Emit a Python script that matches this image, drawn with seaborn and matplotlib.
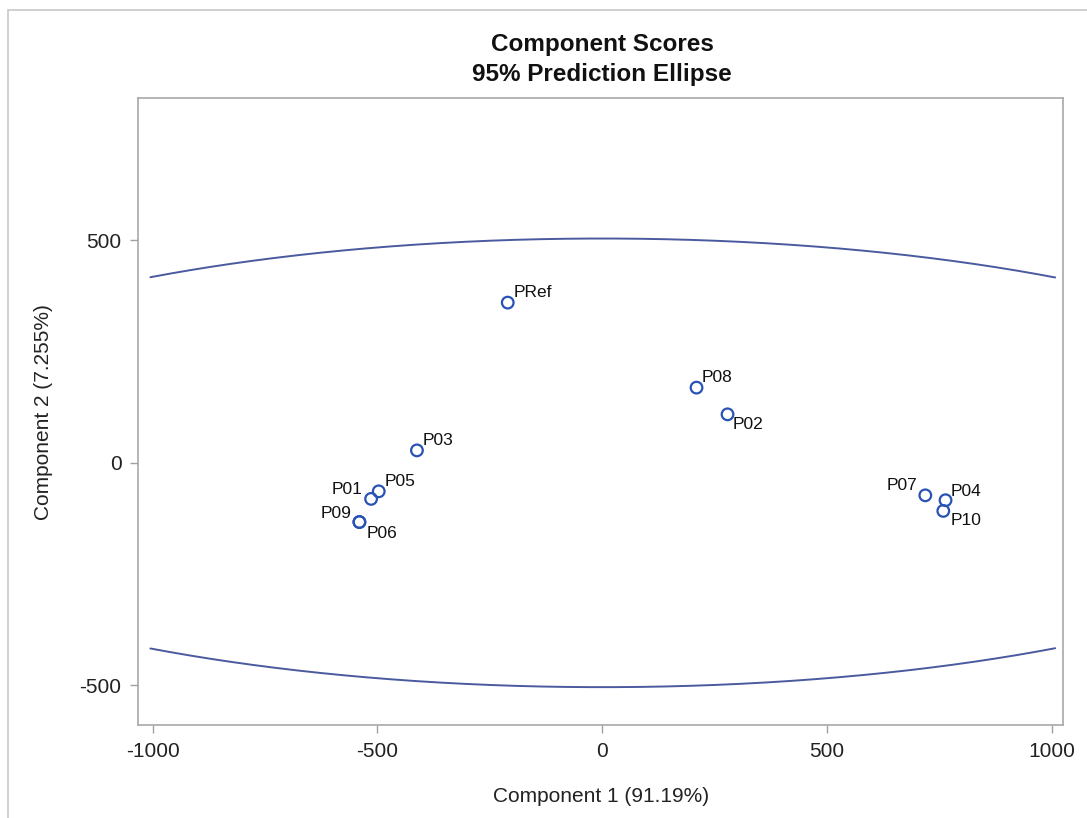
import numpy as np
import pandas as pd
import matplotlib
matplotlib.use("Agg")
import matplotlib.pyplot as plt
from matplotlib.patches import Rectangle
import seaborn as sns

# Component scores for each product
labels = ["PRef", "P08", "P02", "P03", "P05", "P01", "P09", "P06", "P07", "P04", "P10"]
comp1 = [-210, 210, 279, -412, -497, -514, -540, -540, 719, 764, 759]
comp2 = [360, 169, 109, 28, -64, -81, -133, -133, -73, -84, -108]

# Label placement (text offset in points, alignment)
label_dx = [4, 4, 4, 4, 4, -6, -6, 5, -6, 4, 5]
label_dy = [7, 7, -7, 7, 7, 7, 6, -8, 7, 6, -7]

# 95% prediction ellipse semi-axes (centred at the origin)
ellipse_a = 1790
ellipse_b = 504
ellipse_xrange = (-1005, 1008)

sns.set_theme(style="white")
plt.rcParams["font.family"] = ["Liberation Sans", "DejaVu Sans"]
plt.rcParams["axes.unicode_minus"] = False

fig = plt.figure(figsize=(10.87, 8.18), dpi=100)
ax = fig.add_axes([0.1272, 0.1137, 0.851, 0.7661])

df = pd.DataFrame({"comp1": comp1, "comp2": comp2, "label": labels})

# Ellipse arcs (upper and lower)
xs = np.linspace(ellipse_xrange[0], ellipse_xrange[1], 400)
ys = ellipse_b * np.sqrt(1 - (xs / ellipse_a) ** 2)
ell_color = "#4a5a9e"
for sign in (1, -1):
    arc = pd.DataFrame({"x": xs, "y": sign * ys})
    sns.lineplot(data=arc, x="x", y="y", sort=False, estimator=None,
                 color=ell_color, linewidth=1.4, ax=ax)

sns.scatterplot(data=df, x="comp1", y="comp2", marker="o", s=70,
                facecolor="none", edgecolor="#2852b4", linewidth=1.6, ax=ax,
                zorder=3)

for lab, x, y, dx, dy in zip(labels, comp1, comp2, label_dx, label_dy):
    ax.annotate(lab, (x, y), xytext=(dx, dy), textcoords="offset points",
                ha="left" if dx > 0 else "right", va="center",
                fontsize=12.5, color="#111111")

ax.set_xlim(-1032, 1026)
ax.set_ylim(-589, 819)
ax.set_xticks([-1000, -500, 0, 500, 1000])
ax.set_yticks([-500, 0, 500])
ax.tick_params(axis="both", which="major", direction="out", length=6,
               width=1, color="#a0a0a0", labelsize=15, labelcolor="#222222",
               pad=6, bottom=True, left=True)
for sp in ax.spines.values():
    sp.set_color("#a8a8a8")
    sp.set_linewidth(1.2)

ax.set_xlabel("Component 1 (91.19%)", fontsize=15, color="#222222", labelpad=19)
ax.set_ylabel("Component 2 (7.255%)", fontsize=15, color="#222222", labelpad=19)

fig.text(0.554, 1 - 44 / 818, "Component Scores", ha="center", va="center",
         fontsize=17.5, fontweight="bold", color="#111111")
fig.text(0.554, 1 - 74 / 818, "95% Prediction Ellipse", ha="center", va="center",
         fontsize=17.5, fontweight="bold", color="#111111")

# Outer frame around the graph
fig.patches.append(Rectangle((8 / 1087, -0.05), 1.2, 1 - 10 / 818 + 0.05,
                             transform=fig.transFigure, fill=False,
                             edgecolor="#c8c8c8", linewidth=1.2))

fig.savefig("out.png", dpi=100)
